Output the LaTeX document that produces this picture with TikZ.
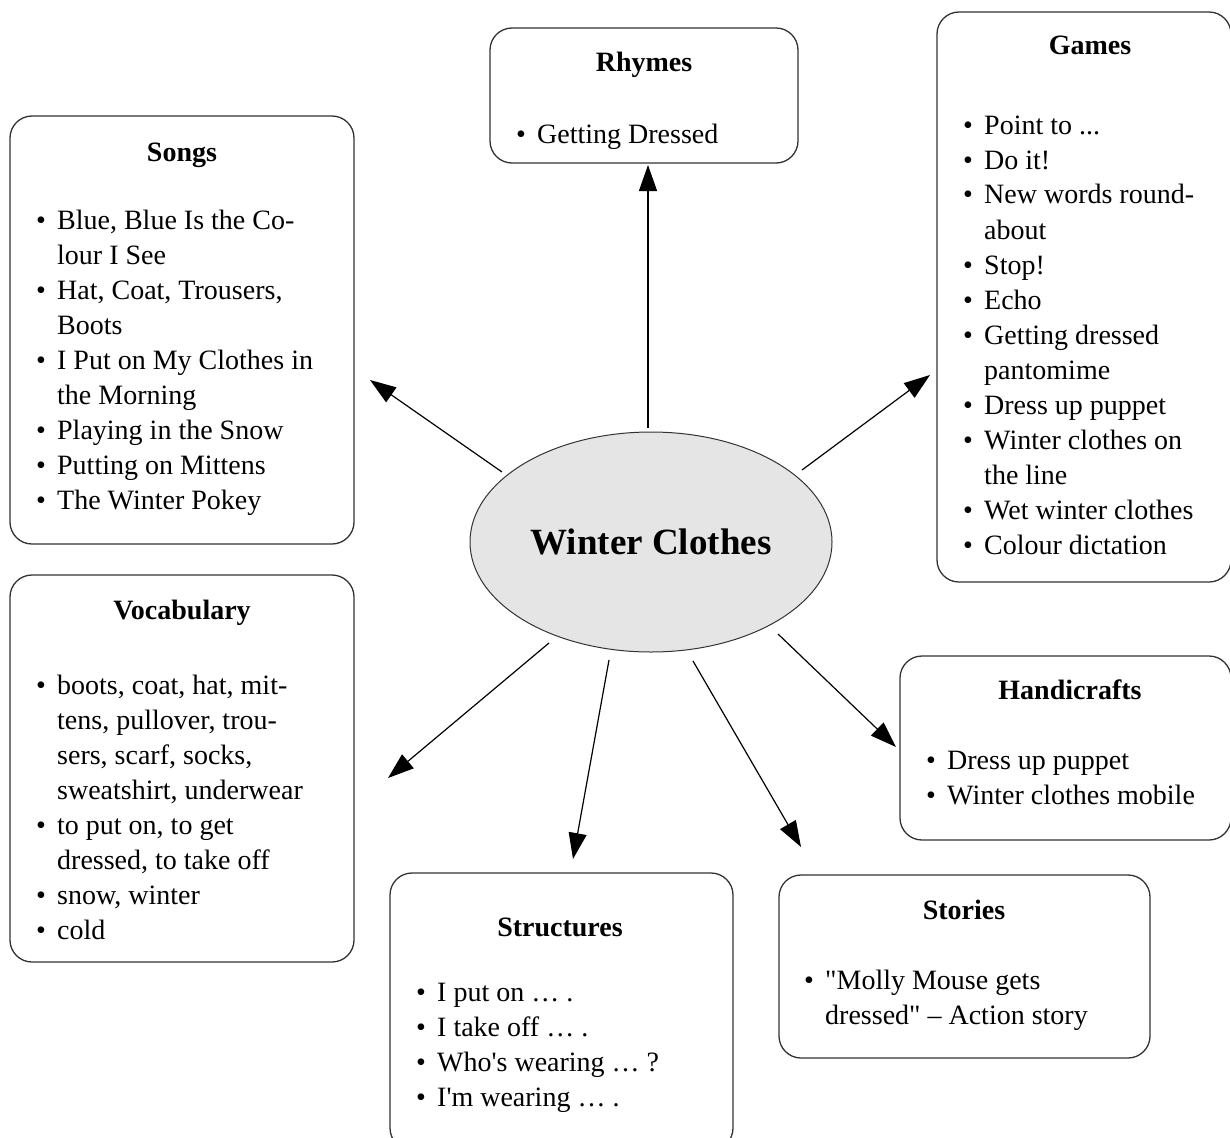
\documentclass[tikz,border=0pt]{standalone}
\usepackage{fontspec}
\setmainfont{Liberation Serif}
\usetikzlibrary{arrows.meta,shapes.geometric}
\newcommand{\itm}{\makebox[21pt][l]{\textbullet}}
\newcommand{\ind}{\hspace*{21pt}}
\newcommand{\blist}[1]{\begin{tabular}[t]{@{}l@{}}#1\end{tabular}}
\begin{document}
\begin{tikzpicture}[x=1pt,y=-1pt,
  box/.style={draw=black!80,line width=1.3pt,rounded corners=22pt,inner sep=0pt},
  ttl/.style={anchor=base,font=\fontsize{28}{35}\selectfont\bfseries,inner sep=0pt},
  lst/.style={anchor=base west,font=\fontsize{28}{35}\selectfont,inner sep=0pt,align=left},
  arr/.style={line width=1.2pt,-{Triangle[length=26pt,width=18pt]}}]
\clip (0,0) rectangle (1230,1137);
\fill[white] (0,0) rectangle (1230,1137);

% centre
\node[ellipse,draw=black!80,line width=1pt,fill=black!10,minimum width=362pt,minimum height=220pt,inner sep=0pt,
  font=\fontsize{37}{44}\selectfont\bfseries] (wc) at (651,542) {Winter Clothes};

% boxes
\node[box,minimum width=308pt,minimum height=135pt] (rhymes) at (644,95.5) {};
\node[box,minimum width=344pt,minimum height=428pt] (songs) at (182,330) {};
\node[box,minimum width=294pt,minimum height=570pt] (games) at (1084,297) {};
\node[box,minimum width=344pt,minimum height=387pt] (vocab) at (182,768.5) {};
\node[box,minimum width=331pt,minimum height=184pt] (handi) at (1065.5,748) {};
\node[box,minimum width=371pt,minimum height=183pt] (stories) at (964.5,966.5) {};
\node[box,minimum width=343pt,minimum height=277pt] (struct) at (561.5,1011.5) {};

% titles
\node[ttl] (rhymesT) at (644,72) {Rhymes};
\node[ttl] (songsT) at (182,161) {Songs};
\node[ttl] (gamesT) at (1090,55) {Games};
\node[ttl] (vocabT) at (182,619) {Vocabulary};
\node[ttl] (handiT) at (1070,699) {Handicrafts};
\node[ttl] (storiesT) at (964,919) {Stories};
\node[ttl] (structT) at (560,936) {Structures};

% lists
\node[lst] (rhymesL) at (516,143) {\blist{\itm Getting Dressed}};
\node[lst] (songsL) at (36,229) {\blist{%
\itm Blue, Blue Is the Co-\\
\ind lour I See\\
\itm Hat, Coat, Trousers,\\
\ind Boots\\
\itm I Put on My Clothes in\\
\ind the Morning\\
\itm Playing in the Snow\\
\itm Putting on Mittens\\
\itm The Winter Pokey}};
\node[lst] (gamesL) at (963,134) {\blist{%
\itm Point to ...\\
\itm Do it!\\
\itm New words round-\\
\ind about\\
\itm Stop!\\
\itm Echo\\
\itm Getting dressed\\
\ind pantomime\\
\itm Dress up puppet\\
\itm Winter clothes on\\
\ind the line\\
\itm Wet winter clothes\\
\itm Colour dictation}};
\node[lst] (vocabL) at (36,694) {\blist{%
\itm boots, coat, hat, mit-\\
\ind tens, pullover, trou-\\
\ind sers, scarf, socks,\\
\ind sweatshirt, underwear\\
\itm to put on, to get\\
\ind dressed, to take off\\
\itm snow, winter\\
\itm cold}};
\node[lst] (handiL) at (926,769) {\blist{%
\itm Dress up puppet\\
\itm Winter clothes mobile}};
\node[lst] (storiesL) at (804,989) {\blist{%
\itm \textquotedbl Molly Mouse gets\\
\ind dressed\textquotedbl{} – Action story}};
\node[lst] (structL) at (416,1001) {\blist{%
\itm I put on … .\\
\itm I take off … .\\
\itm Who\textquotesingle s wearing … ?\\
\itm I\textquotesingle m wearing … .}};

% arrow ends
\coordinate (aR) at (648,428); \coordinate (tR) at (648,165);
\coordinate (aS) at (502,472); \coordinate (tS) at (370,380);
\coordinate (aG) at (802,470); \coordinate (tG) at (930,375);
\coordinate (aV) at (549,643); \coordinate (tV) at (388,778);
\coordinate (aT) at (609,660); \coordinate (tT) at (573,859);
\coordinate (aO) at (693,661); \coordinate (tO) at (801,847);
\coordinate (aH) at (778,634); \coordinate (tH) at (896,747);
\draw[arr] (aR) -- (tR);
\draw[arr] (aS) -- (tS);
\draw[arr] (aG) -- (tG);
\draw[arr] (aV) -- (tV);
\draw[arr] (aT) -- (tT);
\draw[arr] (aO) -- (tO);
\draw[arr] (aH) -- (tH);
\end{tikzpicture}
\end{document}
